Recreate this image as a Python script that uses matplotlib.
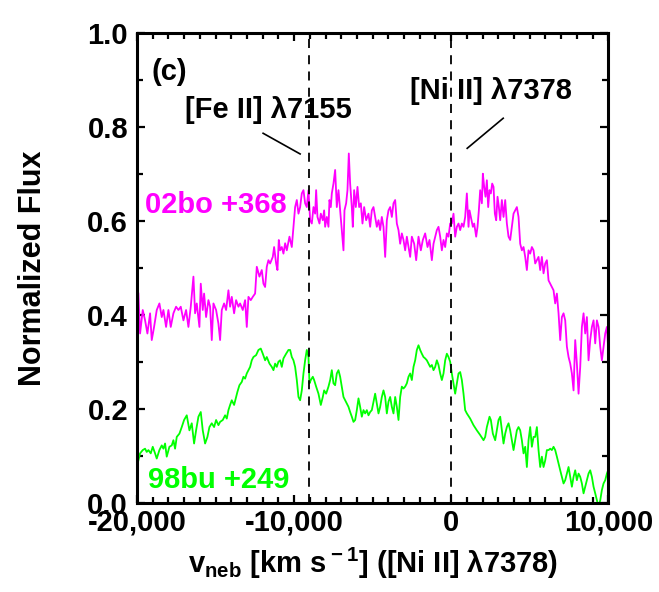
import matplotlib
matplotlib.use("Agg")
import matplotlib.pyplot as plt
from matplotlib.ticker import MultipleLocator, FuncFormatter

plt.rcParams['font.family'] = ['Liberation Sans', 'DejaVu Sans']
plt.rcParams['font.weight'] = 'bold'
plt.rcParams['mathtext.fontset'] = 'custom'
plt.rcParams['mathtext.rm'] = 'Liberation Sans:bold'
plt.rcParams['mathtext.bf'] = 'Liberation Sans:bold'

# SN 2002bo, day +368 (velocity in km/s relative to [Ni II] 7378)
bo_vel = [-19915, -19809, -19639, -19490, -19342, -19172, -19066, -18917, -18747, -18578,
          -18429, -18323, -18153, -18004, -17856, -17686, -17516, -17367, -17219, -17049,
          -16879, -16731, -16582, -16412, -16306, -16200, -16030, -15945, -15818, -15733,
          -15605, -15457, -15350, -15244, -15138, -14969, -14820, -14714, -14607, -14459,
          -14331, -14183, -14077, -13971, -13822, -13695, -13546, -13440, -13270, -13121,
          -13015, -12909, -12760, -12633, -12485, -12378, -12209, -12060, -11954, -11848,
          -11742, -11636, -11529, -11359, -11274, -11147, -11062, -10977, -10892, -10786,
          -10680, -10573, -10467, -10297,
          -10149, -10043, -9937, -9830, -9724, -9618, -9512, -9406, -9300, -9194,
          -9087, -8981, -8875, -8769, -8663, -8599, -8514, -8387, -8302, -8175,
          -8090, -8026, -7920, -7814, -7750, -7665, -7601, -7495, -7389, -7283,
          -7177, -7071, -6964, -6858, -6795, -6689, -6604, -6519, -6434, -6328,
          -6264, -6179, -6073, -5967, -5861, -5754, -5648, -5542, -5415, -5266,
          -5160, -5054, -4948, -4842, -4735, -4629, -4523, -4417, -4311, -4204,
          -4098, -3992, -3886, -3780, -3674, -3567, -3461, -3355, -3249, -3143,
          -3037, -2931, -2824, -2718, -2612, -2506, -2357, -2230, -2082, -1933,
          -1806, -1657, -1508, -1381, -1232, -1126, -1020, -914, -808, -701,
          -595, -489, -383, -277, -171, -65,
          41, 147, 253, 360, 466, 572, 678, 784, 890, 997,
          1103, 1166, 1251, 1379, 1464, 1591, 1676, 1761, 1846, 1952,
          2016, 2100, 2185, 2270, 2355, 2440, 2525, 2610, 2695, 2780,
          2865, 2950, 3035, 3120, 3226, 3332, 3438, 3544, 3650, 3756,
          3863, 3969, 4075, 4181, 4287, 4393, 4499, 4606, 4712, 4818,
          4924, 5030, 5136, 5243, 5349, 5455, 5561, 5667, 5773, 5879,
          5986, 6092, 6198, 6304, 6410, 6516, 6622, 6729, 6835, 6941,
          7047, 7153, 7259, 7366, 7472, 7578, 7684, 7790, 7896, 8002,
          8109, 8215, 8321, 8427, 8533, 8639, 8745, 8851, 8958, 9064,
          9170, 9276, 9382, 9488, 9594, 9700, 9807, 9913, 9990]
bo_flux = [0.446, 0.361, 0.411, 0.389, 0.361, 0.404, 0.347, 0.375, 0.411, 0.425,
           0.396, 0.411, 0.375, 0.411, 0.375, 0.404, 0.418, 0.411, 0.418, 0.389,
           0.411, 0.375, 0.418, 0.482, 0.404, 0.425, 0.375, 0.467, 0.411, 0.446,
           0.396, 0.432, 0.418, 0.347, 0.425, 0.411, 0.382, 0.347, 0.411, 0.425,
           0.411, 0.453, 0.418, 0.439, 0.404, 0.432, 0.418, 0.425, 0.411, 0.432,
           0.375, 0.439, 0.432, 0.439, 0.446, 0.503, 0.482, 0.496, 0.467, 0.460,
           0.503, 0.517, 0.510, 0.524, 0.545, 0.510, 0.496, 0.560, 0.538, 0.545,
           0.531, 0.553, 0.538, 0.567,
           0.545, 0.588, 0.630, 0.645, 0.616, 0.630, 0.659, 0.666, 0.638, 0.630,
           0.666, 0.602, 0.595, 0.630, 0.616, 0.666, 0.609, 0.595, 0.616, 0.602,
           0.623, 0.588, 0.609, 0.588, 0.645, 0.630, 0.659, 0.680, 0.709, 0.630,
           0.666, 0.623, 0.581, 0.538, 0.623, 0.638, 0.666, 0.744, 0.680, 0.630,
           0.588, 0.666, 0.630, 0.673, 0.630, 0.638, 0.595, 0.630, 0.602, 0.616,
           0.588, 0.623, 0.630, 0.609, 0.588, 0.602, 0.581, 0.609, 0.588, 0.524,
           0.602, 0.623, 0.630, 0.609, 0.638, 0.645, 0.595, 0.581, 0.552, 0.574,
           0.560, 0.538, 0.567, 0.545, 0.524, 0.567, 0.552, 0.517, 0.567, 0.538,
           0.560, 0.574, 0.545, 0.560, 0.517, 0.552, 0.567, 0.581, 0.588, 0.567,
           0.538, 0.560, 0.545, 0.574, 0.567, 0.595,
           0.595, 0.616, 0.567, 0.588, 0.595, 0.581, 0.595, 0.588, 0.609, 0.659,
           0.588, 0.623, 0.609, 0.588, 0.595, 0.567, 0.588, 0.623, 0.666, 0.638,
           0.701, 0.673, 0.652, 0.687, 0.630, 0.666, 0.659, 0.680, 0.673, 0.616,
           0.602, 0.652, 0.630, 0.602, 0.645, 0.609, 0.645, 0.595, 0.567, 0.560,
           0.588, 0.616, 0.623, 0.630, 0.609, 0.552, 0.538, 0.545, 0.524, 0.496,
           0.538, 0.531, 0.545, 0.538, 0.510, 0.517, 0.524, 0.496, 0.524, 0.489,
           0.510, 0.517, 0.474, 0.467, 0.460, 0.453, 0.425, 0.446, 0.404, 0.347,
           0.396, 0.404, 0.389, 0.333, 0.311, 0.297, 0.276, 0.240, 0.347, 0.297,
           0.233, 0.290, 0.375, 0.404, 0.361, 0.396, 0.304, 0.347, 0.375, 0.389,
           0.340, 0.389, 0.375, 0.333, 0.304, 0.333, 0.361, 0.375, 0.333]

# SN 1998bu, day +249
bu_vel = [-19915, -19809, -19639, -19491, -19385, -19278, -19130, -19002, -18854, -18748,
          -18578, -18429, -18323, -18217, -18111, -17941, -17792, -17686, -17580, -17474,
          -17304, -17155, -17007, -16837, -16667, -16519, -16370, -16242, -16094, -15945,
          -15818, -15669, -15521, -15393, -15245, -15096, -14969, -14820, -14714, -14544,
          -14395, -14289, -14183, -14077, -13971, -13822, -13695, -13610, -13483, -13334,
          -13228, -13122, -13016, -12909, -12803, -12697, -12591, -12421, -12272, -12124,
          -11996, -11848, -11742, -11572, -11423, -11317, -11211, -11105, -10999, -10893,
          -10786, -10680, -10510, -10362,
          -10255, -10149, -10043, -9937, -9830, -9724, -9618, -9512, -9406, -9300,
          -9194, -9087, -9024, -8939, -8811, -8727, -8599, -8451, -8302, -8175,
          -8090, -7962, -7814, -7707, -7601, -7495, -7389, -7283, -7177, -7071,
          -6964, -6858, -6752, -6646, -6540, -6434, -6328, -6221, -6115, -6009,
          -5903, -5797, -5691, -5584, -5478, -5372, -5266, -5160, -5054, -4948,
          -4842, -4735, -4629, -4523, -4417, -4311, -4204, -4098, -3992, -3886,
          -3780, -3674, -3567, -3461, -3355, -3249, -3143, -3037, -2931, -2824,
          -2718, -2612, -2506, -2400, -2294, -2188, -2082, -1976, -1869, -1763,
          -1657, -1551, -1445, -1338, -1232, -1126, -1020, -914, -808, -701,
          -595, -489, -383, -277, -171, -65,
          41, 147, 253, 360, 466, 572, 678, 784, 890, 997,
          1209, 1421, 1633, 1846, 2058, 2164, 2270, 2440, 2525, 2652,
          2801, 2907, 3013, 3120, 3226, 3332, 3438, 3544, 3650, 3756,
          3863, 3969, 4075, 4181, 4287, 4393, 4499, 4606, 4712, 4818,
          4924, 5030, 5136, 5243, 5349, 5455, 5561, 5667, 5773, 5879,
          5986, 6092, 6198, 6304, 6410, 6516, 6622, 6729, 6835, 6941,
          7047, 7153, 7259, 7366, 7472, 7578, 7684, 7790, 7896, 8002,
          8109, 8215, 8321, 8427, 8533, 8639, 8745, 8851, 8958, 9064,
          9170, 9276, 9382, 9488, 9594, 9700, 9807, 9913, 9990]
bu_flux = [0.091, 0.106, 0.113, 0.116, 0.109, 0.113, 0.106, 0.120, 0.106, 0.095,
           0.113, 0.123, 0.116, 0.127, 0.099, 0.120, 0.123, 0.134, 0.116, 0.141,
           0.148, 0.162, 0.177, 0.187, 0.155, 0.170, 0.127, 0.155, 0.184, 0.194,
           0.155, 0.127, 0.141, 0.162, 0.170, 0.162, 0.177, 0.166, 0.173, 0.177,
           0.187, 0.180, 0.198, 0.209, 0.219, 0.209, 0.226, 0.237, 0.251, 0.258,
           0.269, 0.265, 0.276, 0.283, 0.290, 0.304, 0.311, 0.315, 0.326, 0.329,
           0.318, 0.304, 0.311, 0.297, 0.290, 0.283, 0.297, 0.290, 0.301, 0.304,
           0.290, 0.308, 0.318, 0.326,
           0.326, 0.311, 0.304, 0.290, 0.262, 0.226, 0.219, 0.240, 0.276, 0.304,
           0.326, 0.311, 0.255, 0.262, 0.269, 0.262, 0.248, 0.233, 0.209, 0.226,
           0.240, 0.233, 0.248, 0.262, 0.283, 0.255, 0.251, 0.276, 0.283, 0.269,
           0.248, 0.226, 0.219, 0.212, 0.205, 0.194, 0.184, 0.173, 0.177, 0.198,
           0.223, 0.205, 0.184, 0.198, 0.191, 0.198, 0.187, 0.194, 0.198, 0.216,
           0.233, 0.212, 0.191, 0.205, 0.226, 0.240, 0.226, 0.191, 0.216, 0.226,
           0.205, 0.191, 0.226, 0.205, 0.177, 0.226, 0.248, 0.244, 0.248, 0.255,
           0.269, 0.276, 0.262, 0.290, 0.304, 0.326, 0.336, 0.326, 0.318, 0.311,
           0.308, 0.304, 0.297, 0.290, 0.294, 0.283, 0.290, 0.304, 0.294, 0.276,
           0.262, 0.276, 0.304, 0.318, 0.311, 0.301,
           0.276, 0.255, 0.233, 0.255, 0.276, 0.279, 0.262, 0.233, 0.198, 0.191,
           0.180, 0.166, 0.155, 0.145, 0.134, 0.141, 0.162, 0.184, 0.177, 0.148,
           0.134, 0.155, 0.177, 0.184, 0.155, 0.127, 0.148, 0.162, 0.170, 0.155,
           0.134, 0.113, 0.134, 0.155, 0.162, 0.155, 0.134, 0.106, 0.120, 0.077,
           0.134, 0.162, 0.120, 0.141, 0.141, 0.162, 0.113, 0.077, 0.099, 0.077,
           0.091, 0.113, 0.113, 0.116, 0.113, 0.120, 0.113, 0.099, 0.084, 0.070,
           0.056, 0.042, 0.049, 0.063, 0.077, 0.056, 0.035, 0.056, 0.070, 0.049,
           0.063, 0.056, 0.042, 0.021, 0.035, 0.049, 0.063, 0.070, 0.056, 0.035,
           0.021, 0.006, -0.008, 0.006, 0.028, 0.042, 0.049, 0.063, 0.070]

# [Fe II] 7155 and [Ni II] 7378 rest positions on the [Ni II] velocity scale
line_vel = [-9061, 0]

fig = plt.figure(figsize=(6.59, 5.92), dpi=100)
ax = fig.add_axes([0.208, 0.150, 0.715, 0.794])

ax.plot(bo_vel, bo_flux, color='#ff00ff', lw=1.3)
ax.plot(bu_vel, bu_flux, color='#00ff00', lw=1.3)
for v in line_vel:
    ax.axvline(v, color='black', lw=1.3, ls=(0, (5, 4)))

ax.set_xlim(-20000, 10000)
ax.set_ylim(0.0, 1.0)
ax.xaxis.set_major_locator(MultipleLocator(10000))
ax.xaxis.set_minor_locator(MultipleLocator(1000))
ax.yaxis.set_major_locator(MultipleLocator(0.2))
ax.yaxis.set_minor_locator(MultipleLocator(0.1))
ax.xaxis.set_major_formatter(FuncFormatter(lambda x, p: f"{x:,.0f}"))
ax.yaxis.set_major_formatter(FuncFormatter(lambda y, p: f"{y:.1f}"))
ax.tick_params(which='both', direction='in', top=True, right=True, width=1.6)
ax.tick_params(which='major', length=6, labelsize=21)
ax.tick_params(axis='x', which='major', pad=4)
ax.tick_params(axis='y', which='major', pad=6.5)
ax.tick_params(which='minor', length=4)
for s in ax.spines.values():
    s.set_linewidth(2.2)

ax.set_ylabel('Normalized Flux', fontsize=22, fontweight='bold')
ax.yaxis.set_label_coords(-0.19, 0.5)
ax.set_xlabel(r'v$_{\rm neb}$ [km s$^{\rm -1}$] ([Ni II] λ7378)', fontsize=21, fontweight='bold')
ax.xaxis.set_label_coords(0.5, -0.09)

ax.text(-17962, 0.917, '(c)', fontsize=21, ha='center', va='center')
ax.text(-11656, 0.836, '[Fe II] λ7155', fontsize=21, ha='center', va='center')
ax.text(2548, 0.877, '[Ni II] λ7378', fontsize=21, ha='center', va='center')
ax.plot([-11975, -9618], [0.787, 0.743], color='black', lw=1.2)
ax.plot([3312, 1019], [0.819, 0.755], color='black', lw=1.2)
ax.text(-19490, 0.634, '02bo +368', fontsize=21, color='#ff00ff', ha='left', va='center')
ax.text(-19300, 0.049, '98bu +249', fontsize=21, color='#00ff00', ha='left', va='center')

fig.savefig('out.png', dpi=100)
